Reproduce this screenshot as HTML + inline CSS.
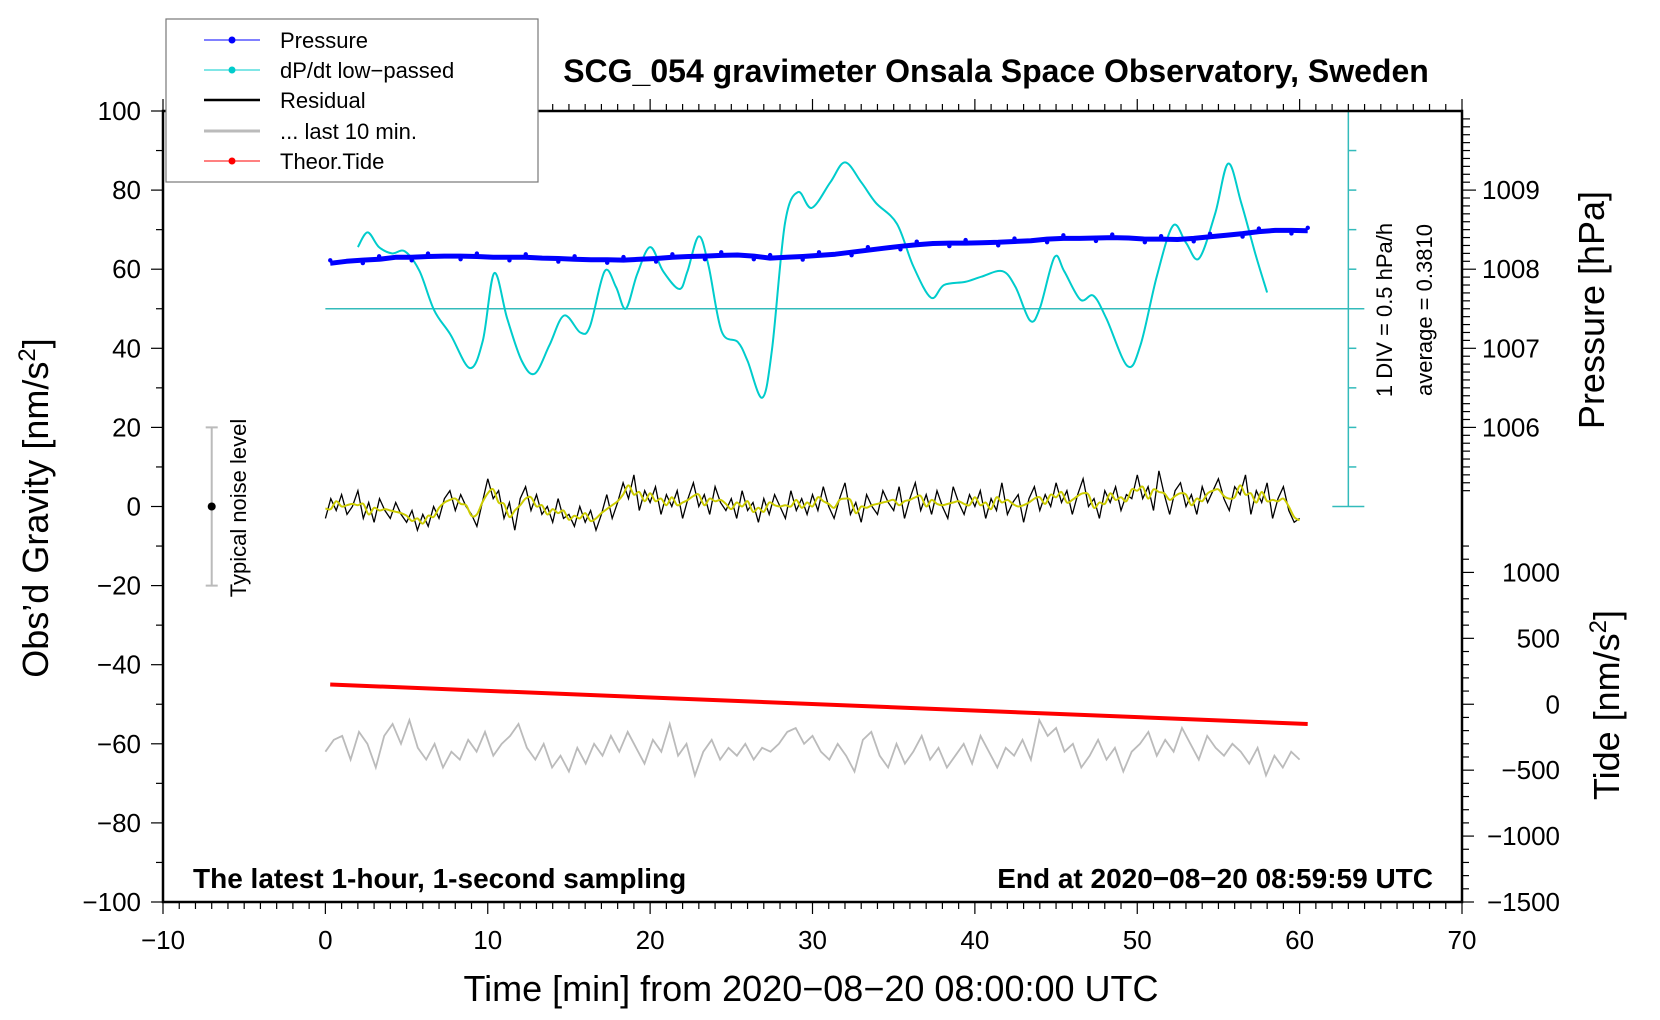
<!DOCTYPE html>
<html><head><meta charset="utf-8"><style>
html,body{margin:0;padding:0;background:#fff;}
svg{display:block;font-family:"Liberation Sans",Arial,sans-serif;}
</style></head><body>
<svg id="chart" width="1660" height="1020" viewBox="0 0 1660 1020" xmlns="http://www.w3.org/2000/svg">
<rect x="0" y="0" width="1660" height="1020" fill="#fff"/>
<g id="marks"></g>
<g id="axes"></g>
<text x="996" y="82" text-anchor="middle" font-size="32" font-weight="bold">SCG_054 gravimeter Onsala Space Observatory, Sweden</text>
<text x="193" y="888" font-size="28" font-weight="bold">The latest 1-hour, 1-second sampling</text>
<text x="1433" y="888" text-anchor="end" font-size="28" font-weight="bold">End at 2020−08−20 08:59:59 UTC</text>
<text x="811" y="1001" text-anchor="middle" font-size="36">Time [min] from 2020−08−20 08:00:00 UTC</text>
<text transform="translate(48,508) rotate(-90)" text-anchor="middle" font-size="36">Obs’d Gravity [nm/s<tspan baseline-shift="super" font-size="24">2</tspan>]</text>
<text transform="translate(1604,310) rotate(-90)" text-anchor="middle" font-size="36">Pressure [hPa]</text>
<text transform="translate(1619,705) rotate(-90)" text-anchor="middle" font-size="36">Tide [nm/s<tspan baseline-shift="super" font-size="24">2</tspan>]</text>
<text transform="translate(1392,310) rotate(-90)" text-anchor="middle" font-size="22">1 DIV = 0.5 hPa/h</text>
<text transform="translate(1432,310) rotate(-90)" text-anchor="middle" font-size="22">average = 0.3810</text>
<text transform="translate(246,508) rotate(-90)" text-anchor="middle" font-size="22">Typical noise level</text>
<g>
<rect x="166" y="19" width="372" height="163" fill="#fff" stroke="#777" stroke-width="1.2"/>
<g><line x1="204" y1="40" x2="260" y2="40" stroke="#00f" stroke-width="1"/><circle cx="232" cy="40" r="3.5" fill="#00f"/><text x="280" y="48" font-size="22">Pressure</text></g>
<g><line x1="204" y1="70" x2="260" y2="70" stroke="#0cc" stroke-width="1"/><circle cx="232" cy="70" r="3.5" fill="#0cc"/><text x="280" y="78" font-size="22">dP/dt low−passed</text></g>
<g><line x1="204" y1="100" x2="260" y2="100" stroke="#000" stroke-width="2.5"/><text x="280" y="108" font-size="22">Residual</text></g>
<g><line x1="204" y1="131" x2="260" y2="131" stroke="#bbb" stroke-width="3"/><text x="280" y="139" font-size="22">... last 10 min.</text></g>
<g><line x1="204" y1="161" x2="260" y2="161" stroke="#f00" stroke-width="1"/><circle cx="232" cy="161" r="3.5" fill="#f00"/><text x="280" y="169" font-size="22">Theor.Tide</text></g>
</g>
</svg>
<script>
// ---- data ----
const xTicks = [-10,0,10,20,30,40,50,60,70];
const yTicks = [100,80,60,40,20,0,-20,-40,-60,-80,-100];
const pressureTicks = [1006,1007,1008,1009];
const tideTicks = [1000,500,0,-500,-1000,-1500];
const pressureHpa = [1008.075,1008.100,1008.115,1008.125,1008.150,1008.150,1008.160,1008.165,1008.165,1008.160,1008.150,1008.150,1008.150,1008.140,1008.135,1008.125,1008.120,1008.120,1008.115,1008.125,1008.135,1008.150,1008.160,1008.165,1008.175,1008.180,1008.165,1008.140,1008.150,1008.160,1008.175,1008.190,1008.215,1008.240,1008.265,1008.290,1008.310,1008.325,1008.330,1008.330,1008.335,1008.340,1008.350,1008.360,1008.380,1008.390,1008.390,1008.395,1008.400,1008.395,1008.380,1008.380,1008.375,1008.390,1008.410,1008.430,1008.450,1008.475,1008.490,1008.490,1008.485];
const dpdtTime = [2.0,2.6,3.3,4.1,4.9,5.8,6.7,7.7,8.9,9.7,10.4,11.2,12.1,12.9,13.8,14.7,15.7,16.3,17.2,17.9,18.5,19.2,20.0,20.8,21.8,22.3,23.0,23.6,24.4,25.4,26.0,26.9,27.5,28.3,29.1,29.95,31.1,32.0,33.0,33.9,35.2,36.2,37.3,38.1,39.4,40.4,41.7,42.5,43.4,44.0,44.9,45.5,46.5,47.3,48.1,49.4,50.2,51.2,52.2,53.0,53.8,54.8,55.6,56.4,57.3,58.0];
const dpdtHpaH = [1.161,1.346,1.161,1.081,1.106,0.856,0.361,0.056,-0.369,-0.019,0.831,0.256,-0.279,-0.439,-0.079,0.296,0.081,0.161,0.856,0.656,0.381,0.816,1.161,0.856,0.631,0.856,1.296,0.921,0.096,-0.039,-0.279,-0.744,-0.144,1.456,1.856,1.656,1.981,2.231,1.981,1.721,1.456,0.921,0.521,0.681,0.721,0.786,0.856,0.656,0.231,0.386,1.031,0.856,0.496,0.546,0.256,-0.344,-0.079,0.786,1.431,1.216,1.016,1.586,2.216,1.721,1.056,0.586];
const dpdtAverage = 0.381;
const residual = [-3,2,-1,3,-2,0,4,-3,1,-4,2,-1,-3,1,-2,
-4,-1,-6,-2,-5,0,-3,2,4,-1,3,0,-2,-5,1,
7,2,4,-3,1,-6,2,5,-1,3,-2,0,-4,2,-3,
-2,-5,0,-4,-1,-6,-2,3,-3,1,6,2,8,-1,4,
1,5,-2,3,0,4,-3,2,6,0,3,-2,5,1,-1,
2,-3,4,-1,1,-4,2,-2,3,0,-3,4,-1,2,-2,
3,-1,5,0,-3,2,6,-2,1,-4,3,0,-2,4,1,
-1,5,-3,2,6,-1,3,-2,4,0,-3,5,1,-2,3,
0,4,-3,2,-1,6,-2,1,3,-4,2,5,-1,3,0,
6,1,4,-2,3,7,0,2,-3,4,1,5,-1,3,2,
8,2,5,-1,9,3,-2,4,6,0,3,-2,5,1,4,
7,2,-1,5,3,8,-2,4,1,6,-3,2,5,-1,-4,
-3];
const last10 = [-62,-59,-58,-64,-57,-60,-66,-58,-55,-60,-54,-61,-64,-60,-66,-62,-64,-59,-62,-57,-63,-60,-58,-55,-61,
-64,-60,-66,-63,-67,-61,-65,-60,-63,-58,-62,-57,-61,-65,-59,-62,-55,-63,-60,-68,-62,-59,-64,-61,-63,
-60,-64,-61,-62,-60,-57,-56,-60,-58,-62,-64,-60,-63,-67,-59,-57,-63,-66,-60,-65,-62,-58,-64,-61,-66,
-63,-60,-65,-58,-62,-66,-61,-63,-59,-64,-54,-58,-56,-62,-60,-66,-63,-59,-64,-61,-67,-62,-60,-57,-63,
-59,-62,-56,-60,-64,-58,-61,-63,-60,-62,-65,-61,-68,-63,-66,-62,-64];
const tideTime = [0.3,60.5];
const tideNms2 = [150,-150];

// ---- scales ----
const X0=163, X1=1462, Y0=111, Y1=902;
const X = t => X0 + (t+10)/80*(X1-X0);
const Y = u => Y0 + (100-u)/200*(Y1-Y0);
const YP = p => Y(60 + (p-1008)*20);
const YT = v => Y(-50 + v/30);
const YD = v => Y(50 + (v-dpdtAverage)*20);
const NS='http://www.w3.org/2000/svg';
const marks=document.getElementById('marks'), axes=document.getElementById('axes');
function mk(tag, attrs, parent){const e=document.createElementNS(NS,tag);for(const k in attrs)e.setAttribute(k,attrs[k]);parent.appendChild(e);return e;}
function poly(pts){return pts.map((p,i)=>(i?'L':'M')+p[0].toFixed(1)+','+p[1].toFixed(1)).join('');}
function smooth(pts){let d='M'+pts[0][0]+','+pts[0][1];for(let i=0;i<pts.length-1;i++){const p0=pts[Math.max(0,i-1)],p1=pts[i],p2=pts[i+1],p3=pts[Math.min(pts.length-1,i+2)];const c1=[p1[0]+(p2[0]-p0[0])/6,p1[1]+(p2[1]-p0[1])/6],c2=[p2[0]-(p3[0]-p1[0])/6,p2[1]-(p3[1]-p1[1])/6];d+=`C${c1[0].toFixed(1)},${c1[1].toFixed(1)} ${c2[0].toFixed(1)},${c2[1].toFixed(1)} ${p2[0].toFixed(1)},${p2[1].toFixed(1)}`;}return d;}

// dP/dt axis
const dAx = X(63);
let e;
e=mk('line',{x1:dAx,y1:Y(100),x2:dAx,y2:Y(0),stroke:'#3bb',"stroke-width":1.5},marks);


for(let u=0;u<=100;u+=10){const w=(u===0||u===100)?16:0;e=mk('line',{x1:dAx-w,y1:Y(u),x2:dAx+(w||8),y2:Y(u),stroke:'#3bb',"stroke-width":1.5},marks);

}
e=mk('line',{x1:X(0),y1:YD(dpdtAverage),x2:dAx+16,y2:YD(dpdtAverage),stroke:'#3bb',"stroke-width":1.5},marks);



// dP/dt curve
e=mk('path',{d:smooth(dpdtTime.map((t,i)=>[X(t),YD(dpdtHpaH[i])])),fill:'none',stroke:'#0cc',"stroke-width":2},marks);



// pressure
const pPts = pressureHpa.map((p,i)=>[X(0.3+i*60.2/60),YP(p)]);
e=mk('path',{d:poly(pPts),fill:'none',stroke:'#00f',"stroke-width":5,"stroke-linejoin":"round"},marks);


pPts.forEach((p,i)=>{e=mk('circle',{cx:p[0],cy:p[1]+((i%3)-1)*3,r:2.2,fill:'#00f'},marks);

});

// residual
const rPts = residual.map((v,i)=>[X(i*60/(residual.length-1)),Y(v)]);
e=mk('path',{d:poly(rPts),fill:'none',stroke:'#000',"stroke-width":1.3},marks);


const sm = residual.map((v,i)=>{let s=0,n=0;for(let k=-1;k<=1;k++){const j=i+k;if(j>=0&&j<residual.length){s+=residual[j];n++;}}return s/n;});
e=mk('path',{d:smooth(sm.map((v,i)=>[X(i*60/(residual.length-1)),Y(v)])),fill:'none',stroke:'#cc0',"stroke-width":2},marks);



// last 10 min
e=mk('path',{d:poly(last10.map((v,i)=>[X(i*60/(last10.length-1)),Y(v)])),fill:'none',stroke:'#bbb',"stroke-width":1.8},marks);



// tide
e=mk('path',{d:poly(tideTime.map((t,i)=>[X(t),YT(tideNms2[i])])),fill:'none',stroke:'#f00',"stroke-width":4},marks);



// noise bar
const nx=X(-7);
e=mk('path',{d:`M${nx},${Y(20)}L${nx},${Y(-20)}M${nx-6},${Y(20)}L${nx+6},${Y(20)}M${nx-6},${Y(-20)}L${nx+6},${Y(-20)}`,stroke:'#bbb',"stroke-width":2,fill:'none'},marks);


e=mk('circle',{cx:nx,cy:Y(0),r:4,fill:'#000'},marks);



// frame
e=mk('rect',{x:X0,y:Y0,width:X1-X0,height:Y1-Y0,fill:'none',stroke:'#000',"stroke-width":2.5},axes);


for(let t=-10;t<=70;t++){const maj=t%10===0;
 e=mk('line',{x1:X(t),y1:Y1,x2:X(t),y2:Y1+(maj?12:7),stroke:'#000',"stroke-width":1.2},axes);
 
 
 e=mk('line',{x1:X(t),y1:Y0,x2:X(t),y2:Y0-(maj?12:7),stroke:'#000',"stroke-width":1.2},axes);
 
 }
xTicks.forEach(t=>{e=mk('text',{x:X(t),y:949,"text-anchor":"middle","font-size":26},axes);e.textContent=String(t).replace('-','−');
 
 });
for(let u=-100;u<=100;u+=10){const maj=u%20===0;
 e=mk('line',{x1:X0,y1:Y(u),x2:X0-(maj?12:7),y2:Y(u),stroke:'#000',"stroke-width":1.2},axes);
 
 }
yTicks.forEach(u=>{e=mk('text',{x:141,y:Y(u)+9,"text-anchor":"end","font-size":26},axes);e.textContent=String(u).replace('-','−');
 
 });
for(let p=1005.2;p<=1009.95;p+=0.1){const maj=Math.abs(p-Math.round(p))<0.01;
 e=mk('line',{x1:X1,y1:YP(p),x2:X1+(maj?14:8),y2:YP(p),stroke:'#000',"stroke-width":1.2},axes);
 
 }
pressureTicks.forEach(p=>{e=mk('text',{x:1482,y:YP(p)+9,"font-size":26},axes);e.textContent=p;
 
 });
for(let v=-1500;v<=1200;v+=100){const maj=v%500===0;
 e=mk('line',{x1:X1,y1:YT(v),x2:X1+(maj?12:7),y2:YT(v),stroke:'#000',"stroke-width":1.2},axes);
 
 }
tideTicks.forEach(v=>{e=mk('text',{x:1560,y:YT(v)+9,"text-anchor":"end","font-size":26},axes);e.textContent=String(v).replace('-','−');
 
 });
</script>
</body></html>
